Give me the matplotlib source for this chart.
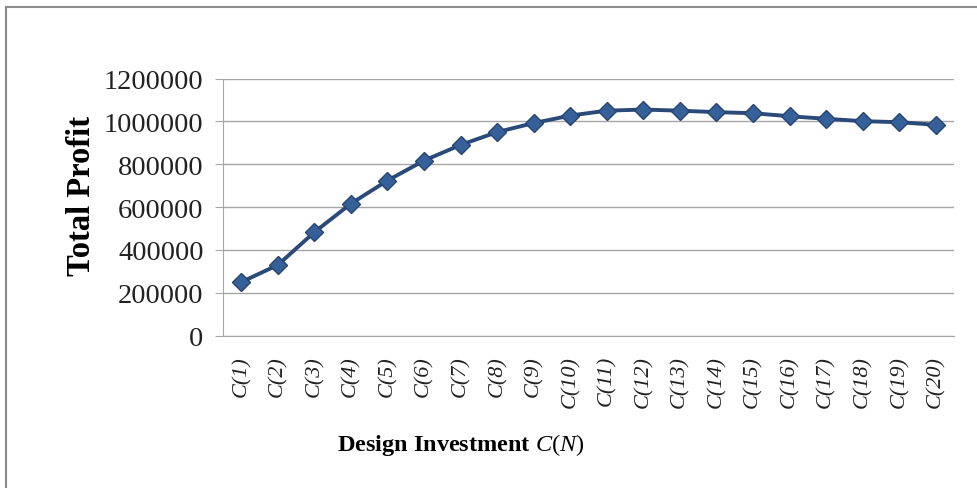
import matplotlib
matplotlib.use("Agg")
import matplotlib.pyplot as plt
from matplotlib.lines import Line2D

plt.rcParams["font.family"] = ["Liberation Serif", "DejaVu Serif"]
plt.rcParams["mathtext.fontset"] = "custom"
plt.rcParams["mathtext.it"] = "Liberation Serif:italic"
plt.rcParams["mathtext.rm"] = "Liberation Serif"

# Profit totals for each design investment level
categories = [f"C({i})" for i in range(1, 21)]
total_profit = [
    250000, 330000, 483000, 616000, 724000, 817000, 890000, 950000, 992000, 1027000,
    1050000, 1055000, 1050000, 1043000, 1038000, 1024000, 1012000, 1001000, 996000, 984000,
]
y_ticks = [0, 200000, 400000, 600000, 800000, 1000000, 1200000]

W, H = 977, 489
fig = plt.figure(figsize=(W / 100, H / 100), dpi=100)
ax = fig.add_axes([223 / W, 1 - 336.7 / H, (954 - 223) / W, (336.7 - 79.5) / H])

x = list(range(len(categories)))
ax.plot(x, total_profit, color="#2A4A7A", lw=2.8, marker="D", ms=9.5,
        markerfacecolor="#36609A", markeredgecolor="#274570", markeredgewidth=1.0,
        zorder=3)

ax.set_xlim(-0.5, len(categories) - 0.5)
ax.set_ylim(0, 1200000)
ax.set_yticks(y_ticks)
ax.set_yticklabels([str(v) for v in y_ticks], fontsize=20.5, color="#222222")
ax.set_xticks(x)
ax.set_xticklabels(categories, rotation=90, fontsize=16, style="italic",
                   color="#222222")

ax.grid(axis="y", color="#A6A6A6", lw=1.0)
ax.set_axisbelow(True)
for side in ["top", "right"]:
    ax.spines[side].set_visible(False)
ax.spines["left"].set_color("#A6A6A6")
ax.spines["bottom"].set_color("#A6A6A6")
ax.tick_params(axis="y", length=6, color="#A6A6A6", pad=8)
ax.tick_params(axis="x", length=0, pad=14)

fig.text(82 / W, 1 - 196 / H, "Total Profit", rotation=90, fontsize=23.5,
         fontweight="bold", ha="center", va="center")
fig.text(461 / W, 1 - 445 / H, r"Design Investment $C(N)$", fontsize=17.5,
         fontweight="bold", ha="center", va="center")

# chart frame: top and left edges
fig.add_artist(Line2D([6 / W, 6 / W], [0, 1 - 8 / H], transform=fig.transFigure,
                      color="#8C8C8C", lw=1.5))
fig.add_artist(Line2D([6 / W, 1], [1 - 8 / H, 1 - 8 / H], transform=fig.transFigure,
                      color="#8C8C8C", lw=1.5))

fig.savefig("out.png", dpi=100)
